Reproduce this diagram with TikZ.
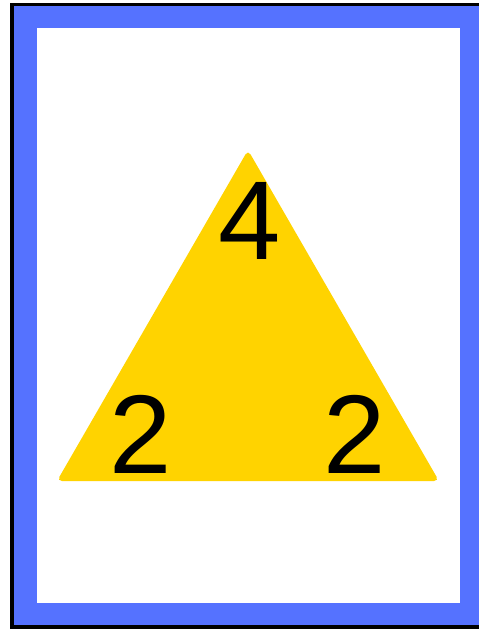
\documentclass[tikz,border=0pt]{standalone}
\usepackage{fontspec}
\setmainfont{Liberation Sans}
\usepackage{tikz}
\usetikzlibrary{positioning}
\usepackage{xcolor}
\definecolor{cardblue}{RGB}{85,114,255}
\definecolor{cardyellow}{RGB}{255,211,0}

\begin{document}
\begin{tikzpicture}[x=1pt, y=-1pt]
  \useasboundingbox (0,0) rectangle (479,630);
  % cadre : noir, puis bleu, puis fond blanc
  \fill[black] (10,3) rectangle (486,629);
  \fill[cardblue] (14,6) rectangle (482,625);
  \fill[white] (37,28) rectangle (460,603);
  % triangle
  \coordinate (T) at (248,150);
  \coordinate (L) at (57,481);
  \coordinate (R) at (439,481);
  \fill[cardyellow, rounded corners=5pt] (T) -- (R) -- (L) -- cycle;
  \foreach \n/\x/\y/\t in {top/250/259/4, left/141/473/2, right/355/473/2} {
    \node[anchor=base, inner sep=0pt, font=\fontsize{112}{112}\selectfont] (\n) at (\x,\y) {\t};
  }
\end{tikzpicture}
\end{document}
